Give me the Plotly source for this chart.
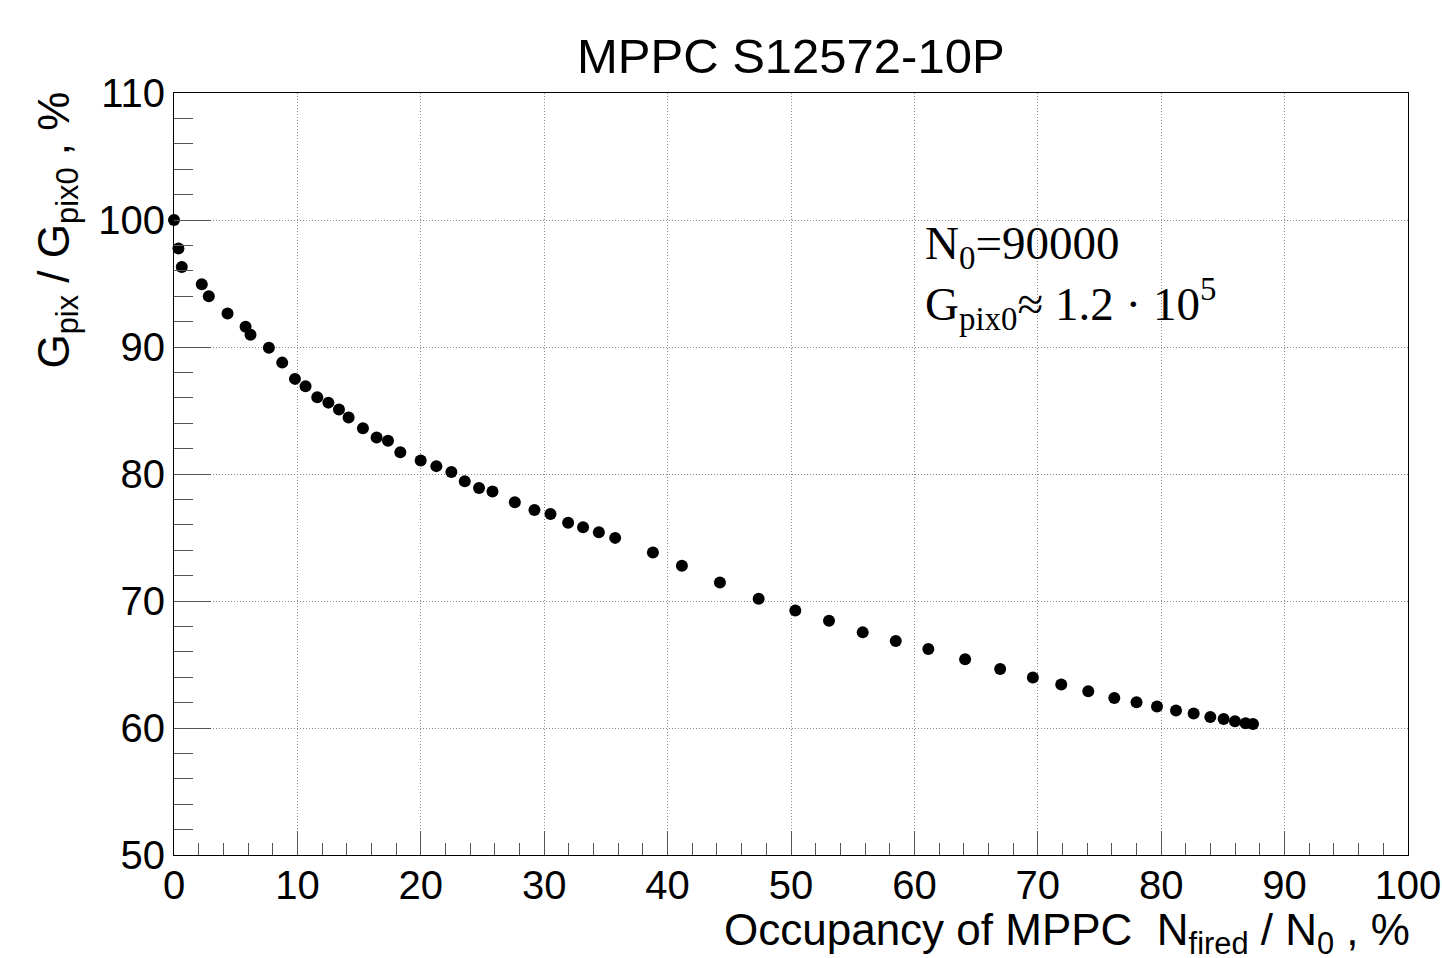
import plotly.graph_objects as go

# Data (occupancy %, relative gain %)
occupancy = [0.0, 0.36, 0.63, 2.25, 2.82, 4.34, 5.80, 6.20, 7.69, 8.77, 9.80, 10.66,
             11.61, 12.51, 13.37, 14.15, 15.31, 16.42, 17.34, 18.34, 19.99, 21.26,
             22.48, 23.56, 24.72, 25.81, 27.62, 29.21, 30.51, 31.94, 33.15, 34.43,
             35.75, 38.81, 41.16, 44.24, 47.38, 50.35, 53.08, 55.81, 58.49, 61.13,
             64.11, 66.95, 69.60, 71.90, 74.09, 76.20, 78.00, 79.66, 81.20, 82.63,
             83.98, 85.06, 85.98, 86.84, 87.44]
gain_ratio = [100.0, 97.75, 96.3, 94.95, 94.0, 92.64, 91.6, 90.97, 89.94, 88.77, 87.49,
              86.91, 86.04, 85.62, 85.07, 84.45, 83.61, 82.88, 82.62, 81.72, 81.07,
              80.62, 80.15, 79.42, 78.89, 78.63, 77.77, 77.16, 76.85, 76.17, 75.81,
              75.41, 74.97, 73.82, 72.77, 71.46, 70.17, 69.26, 68.44, 67.53, 66.85,
              66.22, 65.41, 64.65, 63.97, 63.42, 62.90, 62.37, 62.03, 61.69, 61.37,
              61.14, 60.86, 60.70, 60.54, 60.38, 60.31]

title_text = "MPPC S12572-10P"
x_title = "Occupancy of MPPC  N<sub>fired</sub> / N<sub>0</sub> , %"
y_title = "G<sub>pix</sub> / G<sub>pix0</sub> , %"
note_line1 = "N<sub>0</sub>=90000"
note_line2 = "G<sub>pix0</sub>≈ 1.2 · 10<sup>5</sup>"

W, H = 1442, 958
L, R, T, B = 174, 34, 93, 103

fig = go.Figure()
fig.add_trace(go.Scatter(
    x=occupancy, y=gain_ratio, mode="markers",
    marker=dict(color="black", size=12, line=dict(width=0)),
    showlegend=False, cliponaxis=False,
))

axis_common = dict(
    showline=True, linecolor="black", linewidth=1, mirror=True,
    showgrid=True, gridcolor="#8a8a8a", griddash="1px,2px", gridwidth=1,
    ticks="inside", tickcolor="#555", tickwidth=1,
    tickfont=dict(family="Liberation Sans, Arial", size=40, color="black"),
    zeroline=False, dtick=10, automargin=False,
)

fig.update_xaxes(range=[0, 100], ticklen=24, ticklabelstandoff=-5,
                 minor=dict(dtick=2, ticks="inside", ticklen=12, tickcolor="#555", showgrid=False),
                 **axis_common)
fig.update_yaxes(range=[50, 110], ticklen=37,
                 minor=dict(dtick=2, ticks="inside", ticklen=19, tickcolor="#555", showgrid=False),
                 **axis_common)

font_title = dict(family="Liberation Sans, Arial", size=49, color="black")
font_axis = dict(family="Liberation Sans, Arial", size=44, color="black")
font_serif = dict(family="Liberation Serif, Times New Roman", size=47, color="black")

fig.update_layout(
    width=W, height=H,
    margin=dict(l=L, r=R, t=T, b=B, pad=0),
    paper_bgcolor="white", plot_bgcolor="white",
    annotations=[
        dict(text=title_text, xref="paper", yref="paper", x=0.5, y=1.0,
             xanchor="center", yanchor="bottom", yshift=8, showarrow=False, font=font_title),
        dict(text=x_title, xref="paper", yref="paper", x=1.0, y=0.0,
             xanchor="right", yanchor="top", yshift=-48, xshift=4, showarrow=False, font=font_axis),
        dict(text=y_title, xref="paper", yref="paper", x=0.0, y=1.0, textangle=-90,
             xanchor="right", yanchor="top", xshift=-88, yshift=3, showarrow=False, font=font_axis),
        dict(text=note_line1, xref="x", yref="y", x=60.7, y=97.9,
             xanchor="left", yanchor="middle", showarrow=False, font=font_serif),
        dict(text=note_line2, xref="x", yref="y", x=60.7, y=93.4,
             xanchor="left", yanchor="middle", showarrow=False, font=font_serif),
    ],
)

fig.write_html("out.html", config={"displayModeBar": False},
               post_script="document.body.style.margin='0';")
